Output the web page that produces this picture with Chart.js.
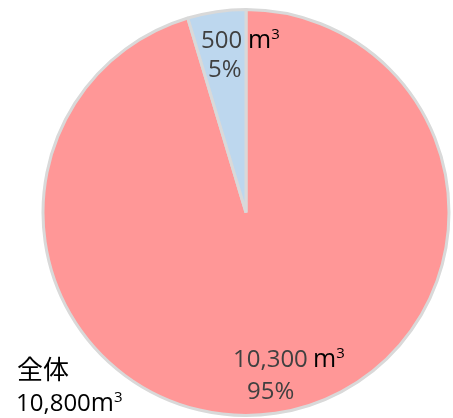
<!DOCTYPE html>
<html>
<head>
<meta charset="utf-8">
<script src="https://cdn.jsdelivr.net/npm/chart.js@4"></script>
<style>
html,body{margin:0;padding:0;background:#fff;}
#wrap{width:453px;height:418px;position:relative;}
</style>
</head>
<body>
<div id="wrap"><canvas id="chart" width="453" height="418"></canvas></div>
<script>
const categories = ["10,300 m3","500 m3"];
const volumes = [10300, 500];
const volumeLabels = ["10,300","500"];
const percentLabels = ["95%","5%"];
const totalLabel = "全体";
const totalValue = "10,800";

const colors = ["#FF9797","#BDD7EE"];

const numFont = "24px 'Open Sans'";
const unitFont = "25px 'Open Sans'";
const supFont = "15px 'Open Sans'";

// label offsets from the pie centre, per slice
const labelPos = [
    {num:[-13,154.5], pct:[1,186.5], unit:67},
    {num:[-45,-164.5], pct:[-38,-135.5], unit:2}
];

const labelPlugin = {
    id:"labels",
    afterDatasetsDraw(chart){
        const ctx = chart.ctx;
        const arc = chart.getDatasetMeta(0).data[0];
        const cx = arc.x;
        const cy = arc.y;

        ctx.save();
        ctx.textBaseline = "alphabetic";
        ctx.textAlign = "left";

        for(let i=0;i<volumes.length;i++){
            const p = labelPos[i];
            ctx.font = numFont;
            ctx.fillStyle = "#404040";
            ctx.fillText(volumeLabels[i], cx+p.num[0], cy+p.num[1]);
            ctx.fillText(percentLabels[i], cx+p.pct[0], cy+p.pct[1]);

            ctx.fillStyle = "#000";
            ctx.font = unitFont;
            const ux = cx + p.unit;
            ctx.fillText("m", ux, cy+p.num[1]);
            const mw = ctx.measureText("m").width;
            ctx.font = supFont;
            ctx.fillText("3", ux+mw, cy+p.num[1]-9);
        }

        // total
        ctx.fillStyle = "#000";
        ctx.font = "26px 'Noto Sans CJK JP'";
        ctx.fillText(totalLabel, 17, 379);
        ctx.font = numFont;
        ctx.fillText(totalValue, 16, 411);
        const tw = ctx.measureText(totalValue).width;
        ctx.font = unitFont;
        ctx.fillText("m", 16+tw, 411);
        const mw2 = ctx.measureText("m").width;
        ctx.font = supFont;
        ctx.fillText("3", 16+tw+mw2, 402);

        ctx.restore();
    }
};

const chart = new Chart(
    document.getElementById("chart"),
    {
        type:"pie",
        data:{
            labels:categories,
            datasets:[
                {
                    data:volumes,
                    backgroundColor:colors,
                    borderColor:"#D9D9D9",
                    borderWidth:3
                }
            ]
        },
        options:{
            responsive:false,
            animation:false,
            layout:{
                padding:{left:41,right:2,top:8,bottom:1}
            },
            plugins:{
                legend:{display:false},
                tooltip:{enabled:false}
            }
        },
        plugins:[labelPlugin]
    }
);
</script>
</body>
</html>
